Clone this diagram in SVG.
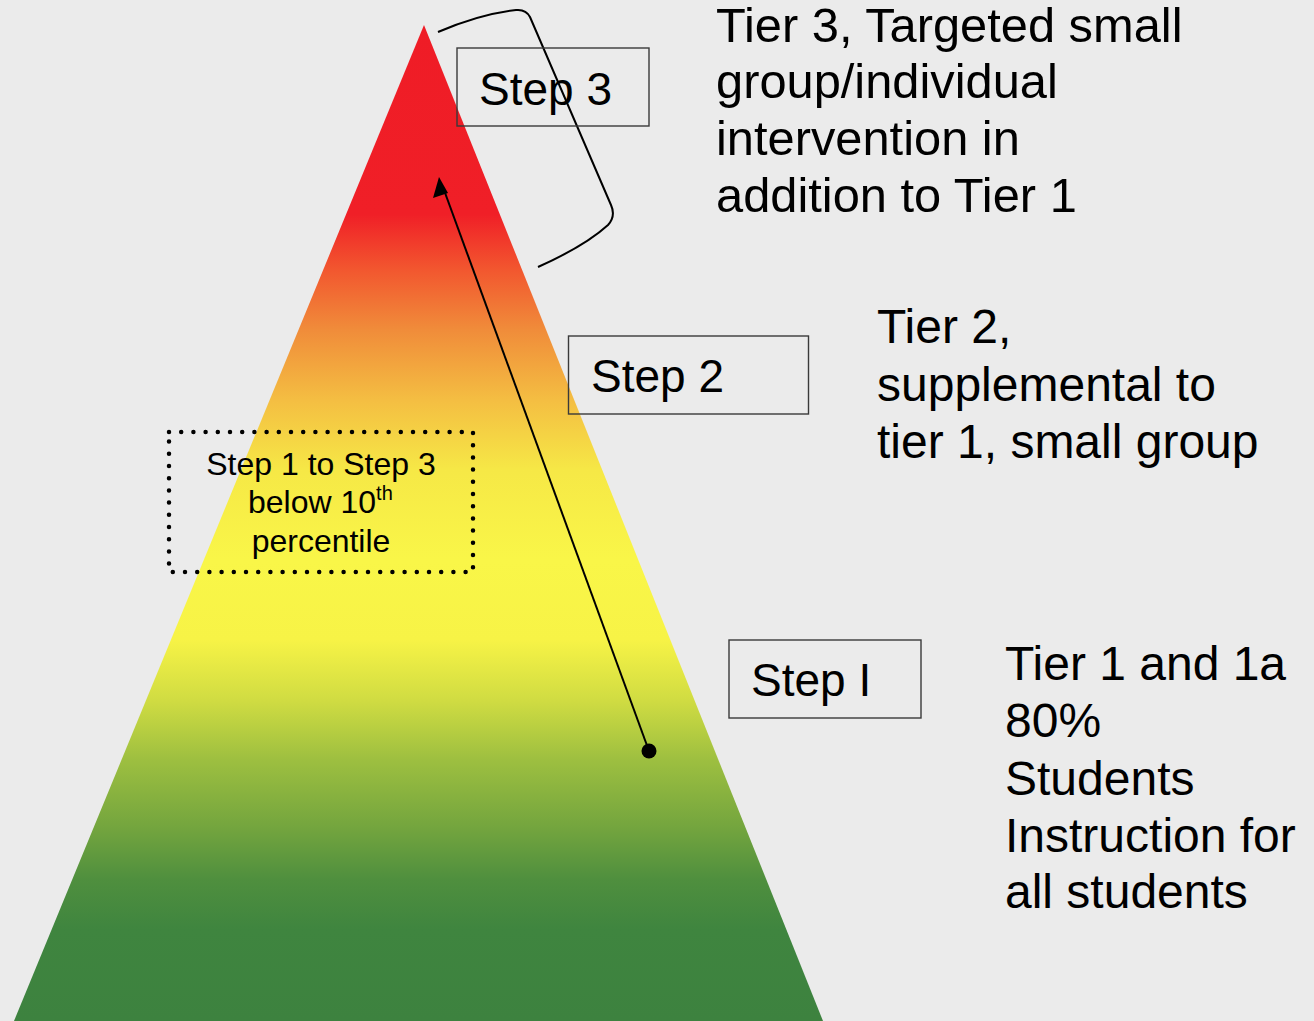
<svg xmlns="http://www.w3.org/2000/svg" width="1314" height="1021" viewBox="0 0 1314 1021">
  <style>
    text { font-family: "Liberation Sans", Arial, sans-serif; fill: #000; }
    .big { font-size: 48px; }
    .big3 { font-size: 48.8px; }
    .step { font-size: 46px; }
    .small { font-size: 32px; }
    .sup { font-size: 20px; }
    .box { fill: none; stroke: #3a3a3a; stroke-width: 1.4; }
    .dotted { fill: none; stroke: #000; stroke-width: 4.5; stroke-linecap: round; stroke-dasharray: 0 12.2; }
    .conn { fill: none; stroke: #000; stroke-width: 2; }
  </style>
  <defs>
    <linearGradient id="tiers" x1="0" y1="25" x2="0" y2="1021" gradientUnits="userSpaceOnUse">
      <stop offset="0" stop-color="#ef1c26"/>
      <stop offset="0.19" stop-color="#f01f27"/>
      <stop offset="0.246" stop-color="#f2572f"/>
      <stop offset="0.306" stop-color="#f08c3a"/>
      <stop offset="0.377" stop-color="#f4be42"/>
      <stop offset="0.447" stop-color="#f6e846"/>
      <stop offset="0.537" stop-color="#f9f648"/>
      <stop offset="0.617" stop-color="#f7f346"/>
      <stop offset="0.678" stop-color="#d0dc42"/>
      <stop offset="0.738" stop-color="#9dbf40"/>
      <stop offset="0.808" stop-color="#72a43e"/>
      <stop offset="0.858" stop-color="#4f8f3e"/>
      <stop offset="0.908" stop-color="#3f853f"/>
      <stop offset="1" stop-color="#3d823f"/>
    </linearGradient>
  </defs>

  <rect width="1314" height="1021" fill="#ebebeb"/>

  <!-- tier pyramid -->
  <g id="pyramid">
    <polygon points="424,25 823,1021 14,1021" fill="url(#tiers)"/>
  </g>

  <!-- connectors: tier-3 brace and step progression arrow -->
  <g id="connectors">
    <path class="conn" d="M438,32 Q480,14 516,10 Q526,9 530,17 L611,205 Q616,216 608,225 Q585,246 538,267"/>
    <line class="conn" x1="649" y1="751" x2="444" y2="190" stroke-width="1.8"/>
    <path d="M439,177 L433,198 L448,193 z" fill="#000"/>
    <circle cx="649" cy="751" r="7.5" fill="#000"/>
  </g>

  <g id="step3">
    <rect class="box" x="457" y="48" width="192" height="78"/>
    <text class="step" x="479" y="105">Step 3</text>
  </g>

  <g id="step2">
    <rect class="box" x="568.5" y="336" width="240" height="78"/>
    <text class="step" x="591" y="392">Step 2</text>
  </g>

  <g id="step1">
    <rect class="box" x="729" y="640" width="192" height="78"/>
    <text class="step" x="751" y="696">Step I</text>
  </g>

  <g id="percentile-note">
    <path class="dotted" d="M169,432 H473 V572 H169 Z"/>
    <text class="small" x="321" y="475" text-anchor="middle">Step 1 to Step 3</text>
    <text class="small" x="248" y="513">below 10<tspan class="sup" dy="-13">th</tspan></text>
    <text class="small" x="321" y="552" text-anchor="middle">percentile</text>
  </g>

  <g id="tier3-label">
    <text class="big3" x="716" y="42">Tier 3, Targeted small</text>
    <text class="big3" x="716" y="98">group/individual</text>
    <text class="big3" x="716" y="155">intervention in</text>
    <text class="big3" x="716" y="212">addition to Tier 1</text>
  </g>

  <g id="tier2-label">
    <text class="big" x="877" y="343">Tier 2,</text>
    <text class="big" x="877" y="401">supplemental to</text>
    <text class="big" x="877" y="458">tier 1, small group</text>
  </g>

  <g id="tier1-label">
    <text class="big" x="1005" y="680">Tier 1 and 1a</text>
    <text class="big" x="1005" y="737">80%</text>
    <text class="big" x="1005" y="795">Students</text>
    <text class="big" x="1005" y="852">Instruction for</text>
    <text class="big" x="1005" y="908">all students</text>
  </g>
</svg>
